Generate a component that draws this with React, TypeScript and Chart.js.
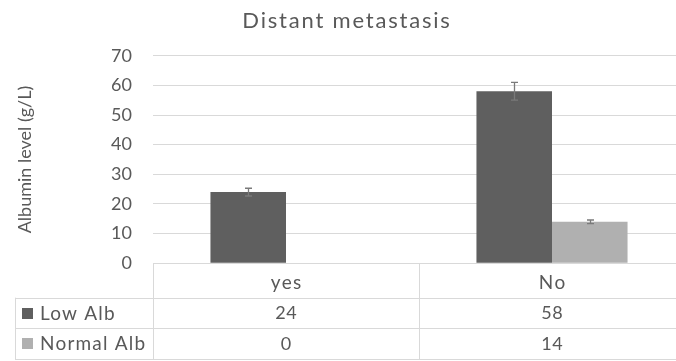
import React, { useEffect, useRef } from "react";
import { Chart, registerables } from "chart.js";

Chart.register(...registerables);

const TITLE = "Distant metastasis";
const Y_TITLE = "Albumin level (g/L)";
const categories = ["yes", "No"];
const seriesNames = ["Low Alb", "Normal Alb"];
const lowAlb = [24, 58];
const normalAlb = [0, 14];
const lowErr = [1.3, 3.0];
const normalErr = [0, 0.6];
const yMin = 0;
const yMax = 70;
const yStep = 10;

const FONT = "Lato";
const TEXT = "#595959";
const GRID = "#d9d9d9";
const COLORS = ["#5f5f5f", "#b0b0b0"];

const W = 700;
const H = 361;

const tablePlugin = {
  id: "tableAndErrors",
  afterDatasetsDraw(chart: any) {
    const ctx = chart.ctx;
    const y = chart.scales.y;
    const errs = [lowErr, normalErr];
    ctx.save();
    ctx.strokeStyle = "#7a7a7a";
    ctx.lineWidth = 1.3;
    chart.data.datasets.forEach((ds: any, di: number) => {
      const meta = chart.getDatasetMeta(di);
      meta.data.forEach((bar: any, i: number) => {
        const e = errs[di][i];
        if (!e) return;
        const v = ds.data[i];
        const x = Math.round(bar.x) + 0.5;
        const yt = y.getPixelForValue(v + e);
        const yb = y.getPixelForValue(v - e);
        ctx.beginPath();
        ctx.moveTo(x, yt);
        ctx.lineTo(x, yb);
        ctx.moveTo(x - 3.5, yt);
        ctx.lineTo(x + 3.5, yt);
        ctx.moveTo(x - 3.5, yb);
        ctx.lineTo(x + 3.5, yb);
        ctx.stroke();
      });
    });
    ctx.restore();
  },
  afterDraw(chart: any) {
    const ctx = chart.ctx;
    const area = chart.chartArea;
    const xs = chart.scales.x;
    const headerH = 34.4;
    const rowH = 30.7;
    const left = 15;
    const top = area.bottom;
    const r1 = top + headerH;
    const r2 = r1 + rowH;
    const r3 = r2 + rowH;
    ctx.save();
    // title
    ctx.fillStyle = TEXT;
    ctx.font = `22px ${FONT}`;
    ctx.letterSpacing = "1.8px";
    ctx.textAlign = "center";
    ctx.textBaseline = "middle";
    ctx.fillText(TITLE, 347, 21);
    // table lines
    ctx.strokeStyle = GRID;
    ctx.lineWidth = 1;
    const hline = (yy: number, x0: number, x1: number) => {
      ctx.beginPath();
      ctx.moveTo(x0, Math.round(yy) + 0.5);
      ctx.lineTo(x1, Math.round(yy) + 0.5);
      ctx.stroke();
    };
    const vline = (xx: number, y0: number, y1: number) => {
      ctx.beginPath();
      ctx.moveTo(Math.round(xx) + 0.5, y0);
      ctx.lineTo(Math.round(xx) + 0.5, y1);
      ctx.stroke();
    };
    hline(r1, left, area.right);
    hline(r2, left, area.right);
    hline(r3, left, area.right);
    vline(left, r1, r3);
    vline(area.left, top, r3);
    const n = categories.length;
    const cw = (area.right - area.left) / n;
    for (let i = 1; i <= n; i++) vline(area.left + cw * i, top, r3);
    // header (category labels)
    ctx.fillStyle = TEXT;
    ctx.font = `19px ${FONT}`;
    ctx.letterSpacing = "1.4px";
    ctx.textAlign = "center";
    categories.forEach((c, ci) => {
      ctx.fillText(c, xs.getPixelForValue(ci) + 0.7, top + headerH / 2 + 2);
    });
    // rows
    const rows = [lowAlb, normalAlb];
    rows.forEach((vals, ri) => {
      const cy = (ri === 0 ? r1 : r2) + rowH / 2;
      ctx.fillStyle = COLORS[ri];
      ctx.fillRect(22, Math.round(cy - 5.5), 11, 11);
      ctx.fillStyle = TEXT;
      ctx.textAlign = "left";
      ctx.font = `19px ${FONT}`;
      ctx.letterSpacing = "1.2px";
      ctx.fillText(seriesNames[ri], 40, cy + 0.5);
      ctx.textAlign = "center";
      ctx.font = `18px ${FONT}`;
      ctx.letterSpacing = "0.6px";
      vals.forEach((v, ci) => {
        ctx.fillText(String(v), xs.getPixelForValue(ci) + 0.3, cy + 0.5);
      });
    });
    ctx.restore();
  },
};

export default function App() {
  const ref = useRef<HTMLCanvasElement | null>(null);
  useEffect(() => {
    if (!ref.current) return;
    const chart = new Chart(ref.current, {
      type: "bar",
      data: {
        labels: categories,
        datasets: [
          {
            label: seriesNames[0],
            data: lowAlb,
            backgroundColor: COLORS[0],
            categoryPercentage: 0.568,
            barPercentage: 1,
          },
          {
            label: seriesNames[1],
            data: normalAlb,
            backgroundColor: COLORS[1],
            categoryPercentage: 0.568,
            barPercentage: 1,
          },
        ],
      },
      options: {
        animation: false,
        responsive: false,
        layout: { padding: { top: 55.7, bottom: 63.3, right: 15, left: 0 } },
        plugins: {
          legend: { display: false },
          tooltip: { enabled: false },
          title: { display: false },
        },
        scales: {
          x: {
            grid: { display: false, drawTicks: false },
            border: { display: false },
            ticks: { display: false },
            afterFit: (s: any) => {
              s.height = 34.4;
            },
          },
          y: {
            min: yMin,
            max: yMax,
            ticks: {
              stepSize: yStep,
              color: TEXT,
              font: { family: FONT, size: 18 },
              padding: 21,
            },
            grid: { color: GRID, lineWidth: 1, drawTicks: false },
            border: { display: false },
            title: {
              display: true,
              text: Y_TITLE,
              color: TEXT,
              font: { family: FONT, size: 18 },
              padding: { top: 14, bottom: 0 },
            },
            afterFit: (s: any) => {
              s.width = 153;
            },
          },
        },
      },
      plugins: [tablePlugin],
    });
    return () => chart.destroy();
  }, []);
  return (
    <div
      style={{
        position: "fixed",
        left: 0,
        top: 0,
        width: 676,
        height: 361,
        overflow: "hidden",
        background: "#fff",
      }}
    >
      <canvas ref={ref} width={W} height={H} style={{ display: "block", width: W, height: H }} />
    </div>
  );
}
